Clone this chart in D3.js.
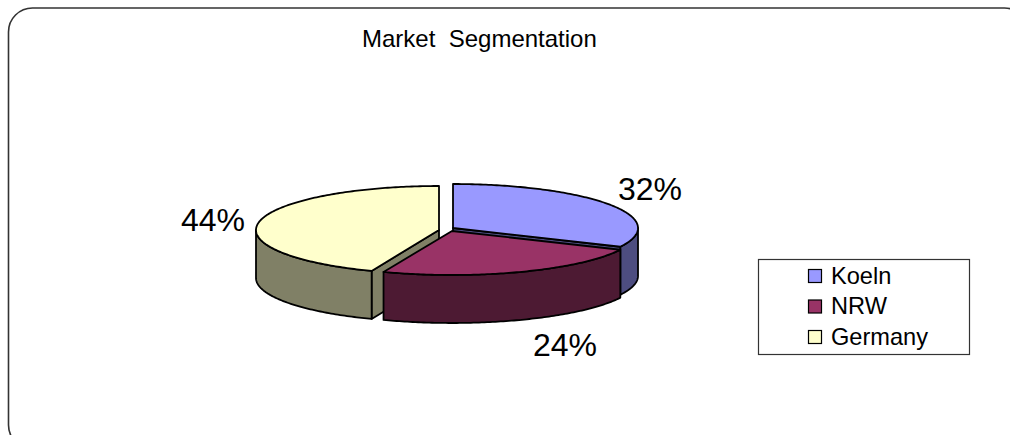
<!DOCTYPE html>
<html>
<head>
<meta charset="utf-8">
<style>
  html, body { margin: 0; padding: 0; background: #fff; }
  svg { display: block; }
  text { font-family: "Liberation Sans", Arial, sans-serif; fill: #000; white-space: pre; }
</style>
<script src="https://cdn.jsdelivr.net/npm/d3@7"></script>
</head>
<body>
<svg id="chart" width="1010" height="435"></svg>
<script>
// Chart content
const titleText = "Market  Segmentation";
const categories = ["Koeln", "NRW", "Germany"];
const shares = [32, 24, 44];
const topColors = ["#9999FF", "#993366", "#FFFFCC"];
const wallColors = ["#4D4D80", "#4D1A33", "#808066"];

// Exploded wedge geometry, one entry per category
const wedgeCentres = [[453, 228], [452, 231], [439, 230]];
const wedgeRadiiX = [185, 186, 183];
const wedgeRadiusY = 44;
const wallDepth = 48;
const labelAnchors = [[618, 200], [533, 356], [181, 231]];
const paintOrder = [2, 0, 1];

const svg = d3.select("#chart");
const ink = "#000";

// Rounded frame; its right and bottom edges run past the page
svg.append("rect")
  .attr("x", 8.5).attr("y", 8)
  .attr("width", 1020).attr("height", 441)
  .attr("rx", 24).attr("ry", 24)
  .attr("fill", "none").attr("stroke", "#333").attr("stroke-width", 1.6);

svg.append("text")
  .attr("x", 362).attr("y", 47)
  .attr("font-size", 24)
  .text(titleText);

const arcs = d3.pie().sort(null).startAngle(0).endAngle(2 * Math.PI)(shares);
const line = d3.line();

// Ellipse point for a clockwise angle measured from twelve o'clock
const rim = (i, angle, drop = 0) => [
  wedgeCentres[i][0] + wedgeRadiiX[i] * Math.sin(angle),
  wedgeCentres[i][1] - wedgeRadiusY * Math.cos(angle) + drop
];
const sweep = (a0, a1) => {
  const n = Math.max(2, Math.ceil(Math.abs(a1 - a0) / 0.015));
  return d3.range(n + 1).map(k => a0 + (a1 - a0) * k / n);
};

const pieGroup = svg.append("g")
  .attr("stroke", ink).attr("stroke-width", 1.8).attr("stroke-linejoin", "round");

function cutFace(i, angle) {
  const apex = wedgeCentres[i];
  const edge = rim(i, angle);
  pieGroup.append("path")
    .attr("fill", wallColors[i])
    .attr("d", line([apex, edge, [edge[0], edge[1] + wallDepth], [apex[0], apex[1] + wallDepth]]) + "Z");
}

paintOrder.forEach(i => {
  const { startAngle: a0, endAngle: a1 } = arcs[i];

  // Straight cut faces that turn toward the viewer
  if (Math.sin(a0) < -1e-6) cutFace(i, a0);
  if (Math.sin(a1) > 1e-6) cutFace(i, a1);

  // Outer wall: only the front half of the rim shows
  const w0 = Math.max(a0, Math.PI / 2);
  const w1 = Math.min(a1, 3 * Math.PI / 2);
  if (w1 > w0) {
    const upper = sweep(w0, w1).map(a => rim(i, a));
    const lower = sweep(w1, w0).map(a => rim(i, a, wallDepth));
    pieGroup.append("path")
      .attr("fill", wallColors[i])
      .attr("d", line(upper.concat(lower)) + "Z");
  }

  // Top surface
  pieGroup.append("path")
    .attr("fill", topColors[i])
    .attr("d", line([wedgeCentres[i]].concat(sweep(a0, a1).map(a => rim(i, a)))) + "Z");
});

// Percentage labels
svg.append("g").selectAll("text")
  .data(shares)
  .join("text")
  .attr("x", (d, i) => labelAnchors[i][0])
  .attr("y", (d, i) => labelAnchors[i][1])
  .attr("font-size", 32)
  .text(d => d + "%");

// Legend
const legend = svg.append("g");
legend.append("rect")
  .attr("x", 758.5).attr("y", 259.5)
  .attr("width", 211).attr("height", 95)
  .attr("fill", "#fff").attr("stroke", "#333").attr("stroke-width", 1.2);

const legendY = d3.scalePoint().domain(categories).range([282.5, 343.5]);
const legendRow = legend.selectAll("g")
  .data(categories)
  .join("g")
  .attr("transform", d => `translate(0,${legendY(d)})`);
legendRow.append("rect")
  .attr("x", 808.5).attr("y", -13)
  .attr("width", 13).attr("height", 13)
  .attr("fill", (d, i) => topColors[i])
  .attr("stroke", ink).attr("stroke-width", 1.2);
legendRow.append("text")
  .attr("x", 831).attr("y", 1)
  .attr("font-size", 23.6)
  .text(d => d);
</script>
</body>
</html>
